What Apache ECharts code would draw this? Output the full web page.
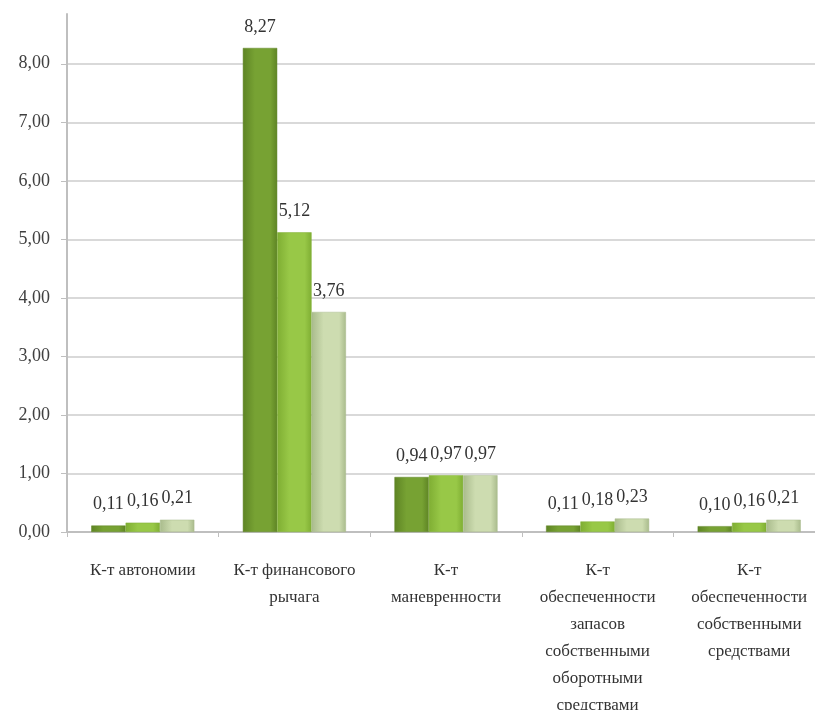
<!DOCTYPE html>
<html>
<head>
<meta charset="utf-8">
<script src="https://cdn.jsdelivr.net/npm/echarts@6/dist/echarts.min.js"></script>
<style>
  html, body { margin: 0; padding: 0; background: #fff; }
  #main { width: 815px; height: 710px; }
</style>
</head>
<body>
<div id="main"></div>
<script>
// категории и значения коэффициентов
var categories = [
  'К-т автономии',
  'К-т финансового\nрычага',
  'К-т\nманевренности',
  'К-т\nобеспеченности\nзапасов\nсобственными\nоборотными\nсредствами',
  'К-т\nобеспеченности\nсобственными\nсредствами'
];
var year1 = [0.11, 8.27, 0.94, 0.11, 0.10];
var year2 = [0.16, 5.12, 0.97, 0.18, 0.16];
var year3 = [0.21, 3.76, 0.97, 0.23, 0.21];
var yTicks = [0, 1, 2, 3, 4, 5, 6, 7, 8];

function grad(edge, mid) {
  return new echarts.graphic.LinearGradient(0, 0, 1, 0, [
    { offset: 0, color: edge },
    { offset: 0.35, color: mid },
    { offset: 0.8, color: mid },
    { offset: 1, color: edge }
  ]);
}

function fmt(v) { return v.toFixed(2).replace('.', ','); }

var labelStyle = {
  show: true,
  position: 'top',
  distance: 12,
  fontFamily: 'Liberation Serif',
  fontSize: 18,
  color: '#333',
  formatter: function (p) { return fmt(p.value); }
};

function makeSeries(name, data, edge, mid) {
  return {
    name: name,
    type: 'bar',
    data: data,
    barGap: '0%',
    barCategoryGap: '32%',
    itemStyle: { color: grad(edge, mid), borderColor: edge, borderWidth: 0.5 },
    label: labelStyle,
    labelLayout: { hideOverlap: false }
  };
}

var myChart = echarts.init(document.getElementById('main'));
myChart.setOption({
  animation: false,
  grid: { left: 67, right: -10, top: 14, bottom: 178, outerBoundsMode: 'none', containLabel: false },
  xAxis: {
    type: 'category',
    data: categories,
    axisLine: { lineStyle: { color: '#bfbfbf', width: 2 } },
    axisTick: { show: true, length: 5, lineStyle: { color: '#bfbfbf' } },
    axisLabel: {
      interval: 0,
      margin: 25,
      fontFamily: 'Liberation Serif',
      fontSize: 17,
      lineHeight: 27,
      color: '#333'
    }
  },
  yAxis: {
    type: 'value',
    min: 0,
    max: 8.85,
    interval: 1,
    axisLine: { show: true, lineStyle: { color: '#bfbfbf', width: 2 } },
    axisTick: { show: true, length: 6, lineStyle: { color: '#bfbfbf' } },
    axisLabel: {
      showMaxLabel: false,
      margin: 17,
      fontFamily: 'Liberation Serif',
      fontSize: 18,
      color: '#404040',
      formatter: function (v) { return yTicks.indexOf(v) >= 0 ? fmt(v) : ''; }
    },
    splitLine: {
      lineStyle: {
        width: 2,
        color: ['#d9d9d9', '#d9d9d9', '#d9d9d9', '#d9d9d9', '#d9d9d9',
                '#d9d9d9', '#d9d9d9', '#d9d9d9', '#d9d9d9', 'rgba(0,0,0,0)']
      }
    }
  },
  series: [
    makeSeries('1', year1, '#5e8424', '#77a233'),
    makeSeries('2', year2, '#7fae33', '#98c847'),
    makeSeries('3', year3, '#a9bb8c', '#cddcb0')
  ]
});
</script>
</body>
</html>
